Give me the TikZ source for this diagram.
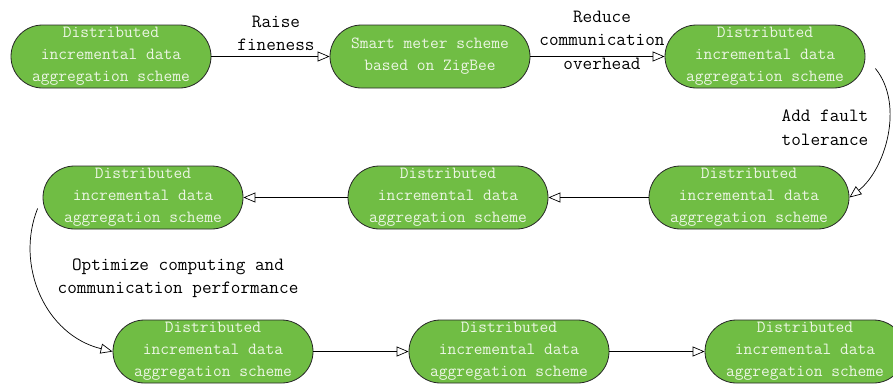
\documentclass[tikz,border=0pt]{standalone}
\usetikzlibrary{arrows.meta,shapes.misc,calc}
\definecolor{stepgreen}{RGB}{112,189,68}
\definecolor{steptext}{RGB}{236,246,228}
\tikzset{
  stepbox/.style={rounded rectangle, draw=black!85, line width=0.8pt,
    fill=stepgreen, text=steptext, minimum width=200pt, minimum height=63pt,
    inner sep=0pt, align=center, font=\fontsize{17}{22}\selectfont\ttfamily},
  steplabel/.style={align=center, inner sep=0pt,
    font=\fontsize{18.7}{23.5}\selectfont\ttfamily},
  flow/.style={draw=black, line width=0.7pt,
    -{Triangle[open, length=12pt, width=10pt, line width=0.7pt]}}
}
\begin{document}
\begin{tikzpicture}[x=1pt,y=1pt]
\useasboundingbox (0,0) rectangle (893,-383);
% first row
\node[stepbox] (n1) at (111,-56.5) {Distributed\\incremental data\\aggregation scheme};
\node[stepbox] (n2) at (430,-56.5) {Smart meter scheme\\based on ZigBee};
\node[stepbox] (n3) at (765,-56.5) {Distributed\\incremental data\\aggregation scheme};
% second row
\node[stepbox] (n4) at (143,-197.5) {Distributed\\incremental data\\aggregation scheme};
\node[stepbox] (n5) at (448,-197.5) {Distributed\\incremental data\\aggregation scheme};
\node[stepbox] (n6) at (749,-197.5) {Distributed\\incremental data\\aggregation scheme};
% third row
\node[stepbox] (n7) at (213,-351.5) {Distributed\\incremental data\\aggregation scheme};
\node[stepbox] (n8) at (509,-351.5) {Distributed\\incremental data\\aggregation scheme};
\node[stepbox] (n9) at (805,-351.5) {Distributed\\incremental data\\aggregation scheme};
% labels
\node[steplabel] (l1) at (276,-33.5) {Raise\\fineness};
\node[steplabel] (l2) at (602,-40) {Reduce\\communication\\overhead};
\node[steplabel] (l3) at (825,-127.5) {Add fault\\tolerance};
\node[steplabel] (l4) at (178,-278) {Optimize computing and\\communication performance};
% connectors
\draw[flow] (n1.east) -- (n2.west);
\draw[flow] (n2.east) -- (n3.west);
\draw[flow] ($(n3.east)+(10,-12)$) .. controls (905,-105) and (885,-170) .. (n6.east);
\draw[flow] (n6.west) -- (n5.east);
\draw[flow] (n5.west) -- (n4.east);
\draw[flow] ($(n4.west)+(-5,-11)$) .. controls (15,-265) and (45,-335) .. (n7.west);
\draw[flow] (n7.east) -- (n8.west);
\draw[flow] (n8.east) -- (n9.west);
\end{tikzpicture}
\end{document}
